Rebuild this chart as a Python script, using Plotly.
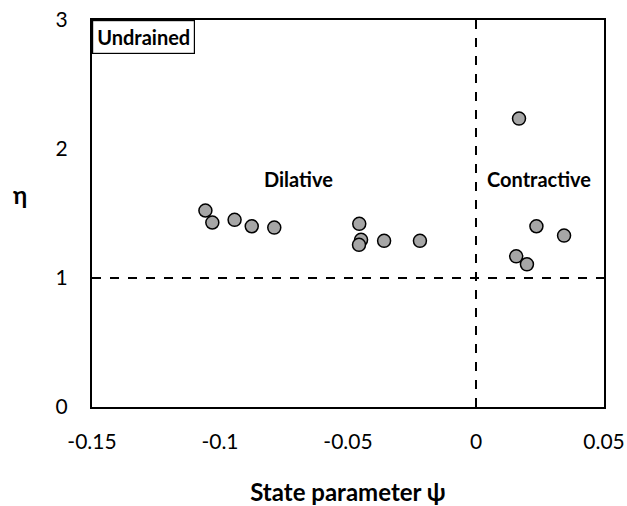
import plotly.graph_objects as go

psi = [-0.1057, -0.1030, -0.0943, -0.0876, -0.0788, -0.0456, -0.0449, -0.0457,
       -0.0359, -0.0219, 0.0168, 0.0236, 0.0344, 0.0157, 0.0199]
eta = [1.523, 1.430, 1.451, 1.401, 1.391, 1.420, 1.296, 1.257,
       1.288, 1.288, 2.236, 1.401, 1.329, 1.168, 1.106]
x_ticks = [-0.15, -0.1, -0.05, 0, 0.05]
x_ticktext = ["-0.15", "-0.1", "-0.05", "0", "0.05"]
y_ticks = [0, 1, 2, 3]

FONT = "Lato, 'Open Sans', sans-serif"

fig = go.Figure()
fig.add_trace(go.Scatter(
    x=psi, y=eta, mode="markers",
    marker=dict(size=13, color="#a6a6a6", line=dict(color="black", width=1.5)),
    showlegend=False, cliponaxis=False, hoverinfo="skip"))

fig.add_shape(type="line", xref="x", yref="y", x0=-0.15, x1=0.05, y0=1, y1=1,
              line=dict(color="black", width=2, dash="dash"), layer="below")
fig.add_shape(type="line", xref="x", yref="y", x0=0, x1=0, y0=0, y1=3,
              line=dict(color="black", width=2, dash="dash"), layer="below")

fig.add_annotation(x=-0.15, y=3, xref="x", yref="y", text="<b>Undrained</b>",
                   xanchor="left", yanchor="top", showarrow=False,
                   font=dict(family=FONT, size=20, color="black"),
                   bordercolor="black", borderwidth=1.2, borderpad=4, bgcolor="white")
fig.add_annotation(x=-0.0695, y=1.77, xref="x", yref="y", text="<b>Dilative</b>",
                   showarrow=False, font=dict(family=FONT, size=20, color="black"))
fig.add_annotation(x=0.0245, y=1.77, xref="x", yref="y", text="<b>Contractive</b>",
                   showarrow=False, font=dict(family=FONT, size=20, color="black"))
# y-axis title
fig.add_annotation(x=-0.159, y=0.548, xref="paper", yref="paper", text="<b>η</b>",
                   showarrow=False, font=dict(family=FONT, size=24, color="black"))

fig.update_layout(
    width=627, height=506,
    margin=dict(l=92, r=23, t=20, b=99, autoexpand=False),
    paper_bgcolor="white", plot_bgcolor="white",
    font=dict(family=FONT, size=21, color="black"),
    xaxis=dict(range=[-0.15, 0.05], tickvals=x_ticks, ticktext=x_ticktext,
               showgrid=False, zeroline=False, showline=True, linecolor="black",
               linewidth=2, mirror=True, ticks="", automargin=False,
               ticklabelstandoff=15,
               title=dict(text="<b>State parameter ψ</b>", standoff=36,
                          font=dict(family=FONT, size=24))),
    yaxis=dict(range=[0, 3], tickvals=y_ticks, showgrid=False, zeroline=False,
               showline=True, linecolor="black", linewidth=2, mirror=True,
               ticks="", automargin=False, ticklabelstandoff=18),
)
fig.write_html("out.html", config={"displayModeBar": False},
               post_script="document.body.style.margin='0px';document.body.style.padding='0px';")
